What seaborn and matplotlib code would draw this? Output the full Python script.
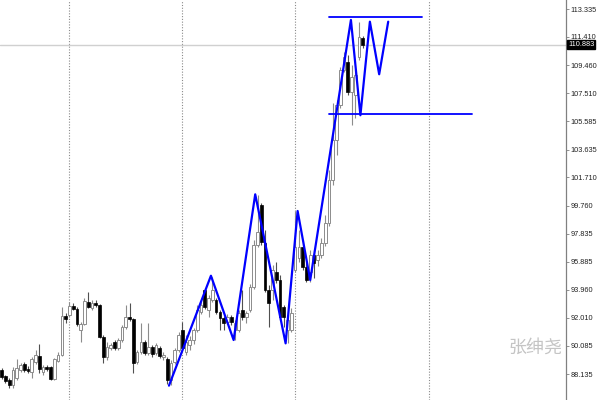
import matplotlib
matplotlib.use("Agg")
import matplotlib.pyplot as plt
import seaborn as sns
import numpy as np
import pandas as pd

# ---- data ----
opens = [88.41, 88.00, 87.72, 87.37, 87.86, 88.41, 88.83, 88.48, 88.27, 88.96,
         89.38, 88.27, 88.62, 88.62, 87.79, 89.03, 89.45, 92.14, 92.21, 92.83,
         92.62, 91.17, 91.58, 93.10, 92.69, 93.03, 92.89, 90.69, 89.31, 89.93,
         90.34, 89.93, 90.48, 91.38, 92.07, 91.93, 88.96, 89.65, 90.34, 89.58,
         90.00, 89.58, 89.93, 89.31, 89.17, 87.72, 88.96, 89.79, 91.17, 89.65,
         90.14, 90.48, 91.17, 92.41, 93.94, 92.55, 93.24, 93.24, 92.41, 92.00,
         91.72, 92.07, 91.17, 91.17, 92.55, 92.07, 92.55, 94.14, 97.04, 99.80,
         97.18, 93.94, 93.94, 95.18, 94.62, 92.76, 91.17, 91.17, 95.32, 96.14,
         96.90, 95.52, 95.18, 96.35, 96.00, 96.35, 97.18, 98.56, 101.53, 104.29,
         106.71, 109.12, 109.68, 107.61, 107.40, 110.02, 111.33]
highs = [88.55, 88.06, 87.86, 88.62, 89.17, 88.89, 88.96, 88.69, 89.31, 89.79,
         90.21, 88.76, 88.76, 88.69, 89.24, 89.65, 92.76, 92.34, 93.10, 93.03,
         92.76, 91.72, 93.38, 93.80, 93.24, 93.24, 92.96, 90.83, 90.34, 90.27,
         90.48, 90.62, 91.51, 92.89, 93.03, 92.00, 89.79, 91.65, 90.48, 91.65,
         90.14, 90.27, 90.07, 89.65, 89.31, 89.10, 89.93, 91.03, 91.72, 90.83,
         90.76, 91.31, 92.89, 93.24, 94.07, 93.59, 94.83, 93.38, 92.55, 92.14,
         92.28, 92.21, 91.86, 92.55, 93.94, 92.48, 94.35, 97.39, 100.50, 99.94,
         98.08, 94.28, 95.66, 95.87, 94.97, 92.89, 92.21, 92.69, 99.40, 98.08,
         97.39, 95.87, 96.70, 96.70, 96.70, 97.53, 99.11, 102.22, 106.85, 107.05,
         109.33, 110.37, 110.16, 109.47, 109.12, 112.44, 111.47]
lows = [87.79, 87.51, 87.17, 87.17, 87.72, 88.27, 88.27, 88.20, 87.86, 88.83,
        88.20, 88.06, 88.34, 87.72, 87.72, 88.96, 89.38, 91.65, 92.07, 92.55,
        91.44, 90.34, 91.51, 92.69, 92.55, 92.76, 90.62, 88.89, 89.10, 89.79,
        89.79, 89.79, 90.34, 91.24, 91.79, 88.20, 88.83, 89.52, 89.45, 89.45,
        89.31, 89.45, 89.24, 89.10, 87.45, 87.35, 88.83, 89.65, 89.79, 89.45,
        89.79, 90.21, 91.03, 92.28, 92.62, 92.07, 93.10, 92.28, 91.17, 91.17,
        91.58, 91.51, 90.48, 91.03, 91.86, 91.65, 92.41, 94.00, 96.90, 97.04,
        93.80, 91.38, 93.24, 94.42, 91.86, 91.38, 90.26, 91.03, 95.18, 95.87,
        95.32, 94.49, 94.49, 94.76, 95.59, 96.14, 96.97, 98.35, 101.18, 103.26,
        106.50, 108.99, 107.40, 105.33, 105.81, 109.81, 110.64]
closes = [87.93, 87.65, 87.37, 88.41, 88.55, 88.76, 88.41, 88.34, 89.17, 89.45,
          88.48, 88.62, 88.48, 87.79, 89.17, 89.45, 92.14, 91.93, 92.83, 92.62,
          91.58, 91.58, 93.17, 92.76, 93.03, 92.89, 90.69, 89.31, 90.00, 90.14,
          89.93, 90.48, 91.38, 92.07, 91.93, 88.89, 89.65, 90.34, 89.58, 90.00,
          89.52, 90.14, 89.38, 89.45, 87.72, 88.89, 89.79, 90.83, 89.93, 90.34,
          90.48, 91.17, 92.55, 92.89, 92.76, 93.38, 93.94, 92.41, 92.00, 91.65,
          92.07, 91.72, 91.65, 92.34, 92.07, 92.34, 94.14, 97.04, 97.94, 97.25,
          93.94, 93.03, 95.32, 94.62, 92.07, 92.07, 91.86, 92.34, 96.90, 96.90,
          95.52, 94.62, 96.35, 95.80, 96.35, 97.18, 98.56, 101.53, 104.29, 106.71,
          109.12, 110.02, 107.61, 108.64, 108.78, 111.40, 110.883]

zig_x = [44.46, 55.62, 61.65, 67.39, 75.47, 78.66, 82.01, 92.83, 95.35, 97.87, 100.34, 102.74]
zig_y = [87.33, 94.92, 90.48, 100.54, 90.25, 99.39, 94.62, 112.58, 106.00, 112.46, 108.83, 112.46]

level_top = 112.80
level_top_x = [87.06, 111.6]
level_bottom = 106.07
level_bottom_x = [87.06, 124.9]

last_price = 110.883
tick_values = [113.335, 111.410, 109.460, 107.510, 105.585, 103.635, 101.710,
               99.760, 97.835, 95.885, 93.960, 92.010, 90.085, 88.135]
tick_labels = ["113.335", "111.410", "109.460", "107.510", "105.585", "103.635", "101.710",
               "99.760", "97.835", "95.885", "93.960", "92.010", "90.085", "88.135"]
period_lines = [18, 48, 78, 113.5]
watermark = "张绅尧"

# ---- plot ----
sns.set_style("white")
plt.rcParams['font.family'] = ['Liberation Sans', 'DejaVu Sans', 'Noto Sans CJK SC']

fig = plt.figure(figsize=(6, 4), dpi=100)
ax = fig.add_axes([0, 0, 566 / 600, 1])

df = pd.DataFrame({"o": opens, "h": highs, "l": lows, "c": closes})
df["i"] = np.arange(len(df))
up = df["c"] >= df["o"]

# period separators
for v in period_lines:
    ax.axvline(v, color="#8a8a8a", lw=0.8, ls=(0, (1, 1.5)), zorder=0)

# current price line
ax.axhline(last_price, color="#d0d0d0", lw=1.0, zorder=0)

# wicks
ax.vlines(df["i"][up], df["l"][up], df["h"][up], color="#8c8c8c", lw=0.8, zorder=1)
ax.vlines(df["i"][~up], df["l"][~up], df["h"][~up], color="#505050", lw=0.8, zorder=1)

# bodies
w = 0.72
ax.bar(df["i"][up], (df["c"] - df["o"])[up], bottom=df["o"][up], width=w,
       color="white", edgecolor="#8c8c8c", linewidth=0.7, zorder=2)
ax.bar(df["i"][~up], (df["c"] - df["o"])[~up], bottom=df["o"][~up], width=w,
       color="black", edgecolor="black", linewidth=0.5, zorder=2)

# zigzag
zz = pd.DataFrame({"x": zig_x, "y": zig_y})
sns.lineplot(data=zz, x="x", y="y", sort=False, color="#0000ff", lw=1.6, ax=ax, zorder=3)

# levels
ax.plot(level_top_x, [level_top, level_top], color="#0000ff", lw=1.3, zorder=3)
ax.plot(level_bottom_x, [level_bottom, level_bottom], color="#0000ff", lw=1.3, zorder=3)

ax.set_xlim(-0.45, 150)
ax.set_ylim(86.34, 113.957)
ax.set_xlabel("")
ax.set_ylabel("")
ax.set_xticks([])

ax.yaxis.tick_right()
ax.set_yticks(tick_values)
ax.set_yticklabels(tick_labels)
ax.tick_params(axis="y", which="both", right=True, length=2.0, width=0.6,
               color="#808080", labelsize=5.3, pad=1.0, labelcolor="#222222")
for s in ["left", "top", "bottom"]:
    ax.spines[s].set_visible(False)
ax.spines["right"].set_color("#808080")
ax.spines["right"].set_linewidth(0.9)

# last price label
ax.annotate(f"{last_price:.3f}", xy=(1.0, last_price), xycoords=("axes fraction", "data"),
            xytext=(1.5, 0), textcoords="offset points", ha="left", va="center",
            fontsize=5.3, color="white",
            bbox=dict(boxstyle="square,pad=0.15", fc="black", ec="black"))

# watermark
fig.text(535 / 600, 1 - 348 / 400, watermark, ha="center", va="center",
         fontsize=13, color="#c4c4c4", family=["Noto Sans CJK SC", "DejaVu Sans"])

fig.savefig("out.png", dpi=100)
